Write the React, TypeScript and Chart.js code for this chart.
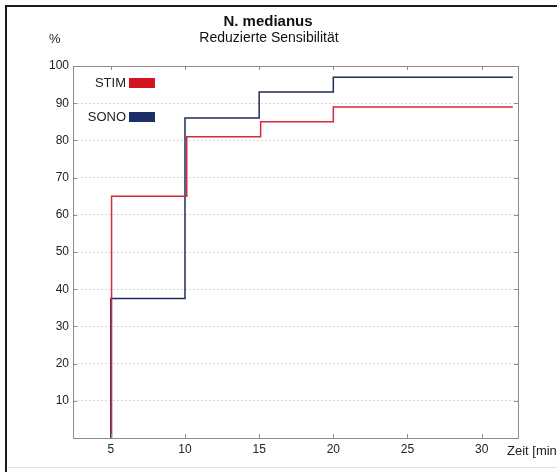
import React, { useEffect, useRef } from 'react';
import { Chart, registerables } from 'chart.js';

Chart.register(...registerables);

// Cumulative share of patients (%) over time (min), step curves
const stimTimes = [5.05, 5.05, 10.12, 15.1, 20, 32.1];
const stimValues = [0, 65, 81, 85, 89, 89];
const sonoTimes = [5, 5, 10, 15, 20, 32.1];
const sonoValues = [0, 37.5, 86, 93, 97, 97];

const seriesLabels = ['STIM', 'SONO'];
const lineColors = ['#cf2d3a', '#1f2d5c'];
const legendColors = ['#d4141f', '#1c2d68'];

const xTicks = [5, 10, 15, 20, 25, 30];
const yTicks = [10, 20, 30, 40, 50, 60, 70, 80, 90, 100];

const titleText = 'N. medianus';
const subtitleText = 'Reduzierte Sensibilität';
const yUnit = '%';
const xUnit = 'Zeit [min]';

const FONT = '"Liberation Sans", Arial, Helvetica, sans-serif';
const AXIS_GRAY = '#8c8c8c';
const TEXT = '#222222';

const decorations = {
  id: 'decorations',
  afterDraw(chart: any) {
    const { ctx, chartArea } = chart;
    const { left, right, top, bottom } = chartArea;
    const xs = chart.scales.x;
    const ys = chart.scales.y;
    ctx.save();

    // outer figure frame
    ctx.fillStyle = '#1a1a1a';
    ctx.fillRect(5, 5, 552, 2);
    ctx.fillRect(5, 5, 2, 467);
    ctx.fillStyle = '#e4e4e4';
    ctx.fillRect(7, 467, 550, 1);

    // plot box
    ctx.strokeStyle = AXIS_GRAY;
    ctx.lineWidth = 1;
    ctx.setLineDash([]);
    ctx.strokeRect(Math.round(left) + 0.5, Math.round(top) + 0.5, Math.round(right - left), Math.round(bottom - top));

    // inward tick marks on all four sides
    const tl = 4;
    ctx.beginPath();
    for (const v of xTicks) {
      const px = Math.round(xs.getPixelForValue(v)) + 0.5;
      ctx.moveTo(px, bottom);
      ctx.lineTo(px, bottom - tl);
      ctx.moveTo(px, top);
      ctx.lineTo(px, top + tl);
    }
    for (const v of yTicks) {
      const py = Math.round(ys.getPixelForValue(v)) + 0.5;
      ctx.moveTo(left, py);
      ctx.lineTo(left + tl, py);
      ctx.moveTo(right, py);
      ctx.lineTo(right - tl, py);
    }
    ctx.stroke();

    // titles
    ctx.fillStyle = '#111';
    ctx.textAlign = 'center';
    ctx.textBaseline = 'middle';
    ctx.font = `bold 15px ${FONT}`;
    ctx.fillText(titleText, 268, 22);
    ctx.font = `14px ${FONT}`;
    ctx.fillText(subtitleText, 269, 38);

    ctx.fillStyle = TEXT;
    ctx.font = `13px ${FONT}`;
    ctx.textAlign = 'left';
    ctx.fillText(yUnit, 49, 39);
    ctx.fillText(xUnit, 507, 451);

    // legend: label followed by a colour bar
    const ds = chart.data.datasets;
    const rows = [83, 117];
    ds.forEach((d: any, i: number) => {
      ctx.font = `13px ${FONT}`;
      ctx.textAlign = 'right';
      ctx.fillStyle = TEXT;
      ctx.fillText(d.label, 126, rows[i]);
      ctx.fillStyle = legendColors[i];
      ctx.fillRect(129, rows[i] - 5, 26, 10);
    });

    ctx.restore();
  },
};

export default function App() {
  const canvasRef = useRef<HTMLCanvasElement | null>(null);

  useEffect(() => {
    const canvas = canvasRef.current;
    if (!canvas) return;
    const toPoints = (xs: number[], ys: number[]) => xs.map((x, i) => ({ x, y: ys[i] }));

    const chart = new Chart(canvas, {
      type: 'line',
      data: {
        datasets: [
          {
            label: seriesLabels[0],
            data: toPoints(stimTimes, stimValues),
            borderColor: lineColors[0],
            borderWidth: 1.5,
            stepped: 'before',
            pointRadius: 0,
            fill: false,
          },
          {
            label: seriesLabels[1],
            data: toPoints(sonoTimes, sonoValues),
            borderColor: lineColors[1],
            borderWidth: 1.5,
            stepped: 'before',
            pointRadius: 0,
            fill: false,
          },
        ],
      },
      options: {
        responsive: false,
        animation: false,
        devicePixelRatio: 1,
        layout: { padding: { top: 66, right: 39, left: 0, bottom: 0 } },
        plugins: {
          legend: { display: false },
          title: { display: false },
          tooltip: { enabled: false },
        },
        scales: {
          x: {
            type: 'linear',
            min: 2.45,
            max: 32.45,
            grid: { display: false, drawTicks: false },
            border: { display: false },
            afterBuildTicks: (scale: any) => {
              scale.ticks = xTicks.map((value) => ({ value }));
            },
            afterFit: (scale: any) => {
              scale.height = 34;
            },
            ticks: {
              color: TEXT,
              padding: 4,
              font: { family: FONT, size: 12 },
              maxRotation: 0,
              autoSkip: false,
            },
          },
          y: {
            type: 'linear',
            min: 0,
            max: 100,
            grid: {
              drawTicks: false,
              color: (c: any) => (c.tick && c.tick.value === 100 ? 'rgba(0,0,0,0)' : '#d9d9d9'),
              lineWidth: 1,
            },
            border: { display: false, dash: [2, 2] },
            afterBuildTicks: (scale: any) => {
              scale.ticks = yTicks.map((value) => ({ value }));
            },
            afterFit: (scale: any) => {
              scale.width = 73;
            },
            ticks: {
              color: TEXT,
              padding: 4,
              font: { family: FONT, size: 12 },
              autoSkip: false,
            },
          },
        },
      },
      plugins: [decorations],
    } as any);

    return () => chart.destroy();
  }, []);

  return (
    <div style={{ position: 'fixed', left: 0, top: 0, width: 557, height: 472, background: '#fff' }}>
      <canvas ref={canvasRef} width={557} height={472} style={{ display: 'block' }} />
    </div>
  );
}
